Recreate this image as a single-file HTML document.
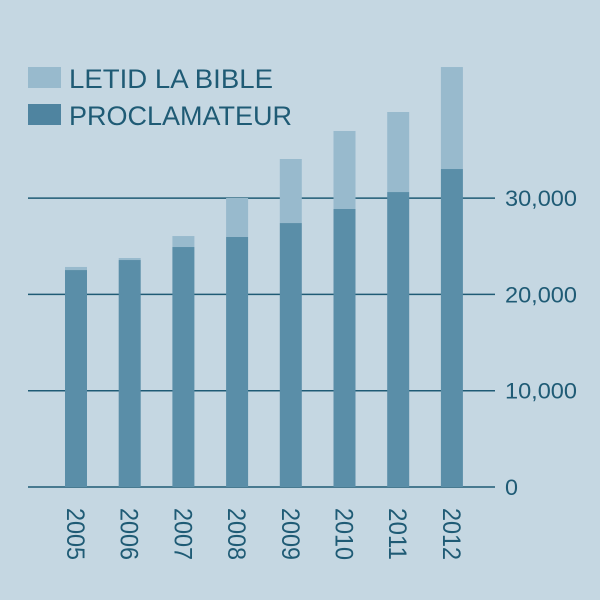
<!DOCTYPE html>
<html><head><meta charset="utf-8"><style>
body{margin:0;background:#c5d7e2}
svg{display:block;font-family:"Liberation Sans Narrow","Liberation Sans",sans-serif}
</style></head><body>
<svg id="chart" width="600" height="600" viewBox="0 0 600 600">
<rect width="600" height="600" fill="#c5d7e2"/>
<g id="legend">
<rect x="28" y="67" width="33" height="21" fill="#98bacd"/>
<text x="69" y="88" font-size="27" fill="#1f5b75" textLength="204" lengthAdjust="spacingAndGlyphs">LETID LA BIBLE</text>
<rect x="28" y="104" width="33" height="21" fill="#4f84a0"/>
<text x="69" y="125" font-size="27" fill="#1f5b75" textLength="223" lengthAdjust="spacingAndGlyphs">PROCLAMATEUR</text>
</g>
<g id="grid"></g><g id="bars"></g><g id="xlabels"></g>
</svg>
<script>
const years=["2005","2006","2007","2008","2009","2010","2011","2012"];
const proclamateur=[22530,23570,24920,25960,27410,28870,30630,33020];
const letid=[320,210,1140,4050,6650,8100,8310,10590];
const ticks=[0,10000,20000,30000];
const tickLabels=["0","10,000","20,000","30,000"];
const ns="http://www.w3.org/2000/svg";
const y=v=>487-v*0.00963;
const x=i=>76+i*53.7;
function mk(t,a,p){const e=document.createElementNS(ns,t);for(const k in a)e.setAttribute(k,a[k]);p.appendChild(e);return e;}
const grid=document.getElementById('grid'),bars=document.getElementById('bars'),xl=document.getElementById('xlabels');
ticks.forEach((t,i)=>{
 const l=mk('line',{x1:28,x2:495,y1:y(t),y2:y(t),stroke:"#1f5b75","stroke-width":1.5},grid);
 
 
 const tx=mk('text',{x:505,y:y(t)+8,"font-size":22,fill:"#1f5b75",textLength:t===0?13:72,lengthAdjust:"spacingAndGlyphs"},grid);
 tx.textContent=tickLabels[i];
 
 
});
years.forEach((yr,i)=>{
 const w=22,cx=x(i);
 const d=mk('rect',{x:cx-w/2,y:y(proclamateur[i]),width:w,height:y(0)-y(proclamateur[i]),fill:"#5a8ea8"},bars);
 
 
 const tot=proclamateur[i]+letid[i];
 const l=mk('rect',{x:cx-w/2,y:y(tot),width:w,height:y(proclamateur[i])-y(tot),fill:"#98bacd"},bars);
 
 
 const t=mk('text',{x:0,y:0,"font-size":25,fill:"#1f5b75",textLength:52,lengthAdjust:"spacingAndGlyphs",transform:`translate(${cx-9},508) rotate(90)`},xl);
 t.textContent=yr;
 
 
});
</script>
</body></html>
